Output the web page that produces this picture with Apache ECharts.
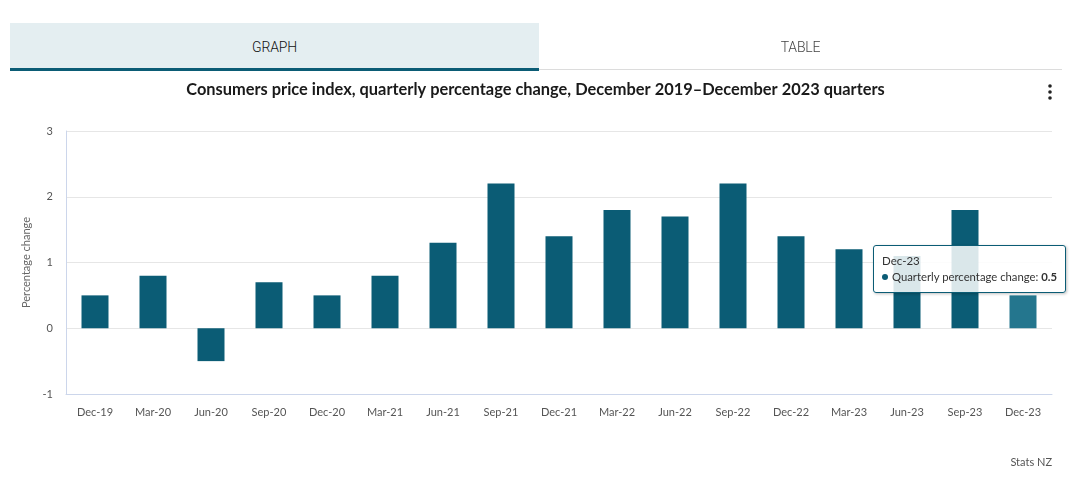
<!DOCTYPE html>
<html>
<head>
<meta charset="utf-8">
<script src="https://cdn.jsdelivr.net/npm/echarts@6/dist/echarts.min.js"></script>
<style>
  html, body { margin: 0; padding: 0; background: #fff; width: 1071px; height: 485px; overflow: hidden; }
  #chart { position: absolute; left: 0; top: 0; width: 1071px; height: 485px; }
  .tab { position: absolute; top: 23px; height: 45px; line-height: 48px; text-align: center;
         font-family: Roboto, "Liberation Sans", sans-serif; font-weight: 300; font-size: 14px; letter-spacing: -0.2px; }
  #tabGraph { left: 10px; width: 529px; background: #e4eef1; color: #111; border-bottom: 3px solid #0b5c75; }
  #tabTable { left: 539px; width: 523px; color: #444; height: 46px; border-bottom: 1px solid #dcdcdc; }
</style>
</head>
<body>
<div id="chart"></div>
<div class="tab" id="tabGraph">GRAPH</div>
<div class="tab" id="tabTable">TABLE</div>
<script>
const categories = ["Dec-19","Mar-20","Jun-20","Sep-20","Dec-20","Mar-21","Jun-21","Sep-21","Dec-21","Mar-22","Jun-22","Sep-22","Dec-22","Mar-23","Jun-23","Sep-23","Dec-23"];
const quarterlyChange = [0.5, 0.8, -0.5, 0.7, 0.5, 0.8, 1.3, 2.2, 1.4, 1.8, 1.7, 2.2, 1.4, 1.2, 1.1, 1.8, 0.5];
const seriesName = "Quarterly percentage change";
const titleText = "Consumers price index, quarterly percentage change, December 2019\u2013December 2023 quarters";
const yAxisName = "Percentage change";
const creditText = "Stats NZ";

const chart = echarts.init(document.getElementById('chart'), null, { renderer: 'canvas' });
const font = 'Lato, "Open Sans", sans-serif';
const barColor = '#0b5c75';

chart.setOption({
  animation: false,
  textStyle: { fontFamily: font },
  title: {
    text: titleText,
    left: 'center', top: 77,
    textStyle: { fontFamily: font, fontSize: 16.4, fontWeight: 'bold', color: '#1a1a1a' }
  },
  grid: { left: 66, right: 19, top: 131, bottom: 91, containLabel: false },
  tooltip: {
    trigger: 'item',
    backgroundColor: 'rgba(255,255,255,0.85)',
    borderColor: barColor,
    borderWidth: 1,
    borderRadius: 3,
    padding: [7, 8],
    extraCssText: 'box-shadow: 1px 1px 3px rgba(0,0,0,0.25);',
    textStyle: { fontFamily: font, fontSize: 11, color: '#333' },
    position: function () { return [873, 245]; },
    formatter: function (p) {
      return '<div style="line-height:16px;font-size:11.5px">' + p.name + '</div>' +
        '<div style="line-height:16px;font-size:11.3px"><span style="display:inline-block;width:6px;height:6px;border-radius:50%;background:' + barColor + ';margin-right:4px;vertical-align:1px"></span>' +
        p.seriesName + ': <b>' + p.value + '</b></div>';
    }
  },
  xAxis: {
    type: 'category',
    data: categories,
    axisLine: { onZero: false, lineStyle: { color: '#ccd6eb', width: 1 } },
    axisTick: { alignWithLabel: true, length: 10, lineStyle: { color: '#ccd6eb' } },
    axisLabel: { color: '#555', fontSize: 11, margin: 13, fontFamily: font }
  },
  yAxis: {
    type: 'value',
    min: -1, max: 3, interval: 1,
    name: yAxisName,
    nameLocation: 'middle',
    nameGap: 27,
    nameTextStyle: { color: '#666', fontSize: 11, fontFamily: font },
    axisLine: { show: true, lineStyle: { color: '#ccd6eb' } },
    axisTick: { show: false },
    axisLabel: { color: '#555', fontSize: 11, margin: 13, fontFamily: font },
    splitLine: { lineStyle: { color: '#e6e6e6' } }
  },
  series: [{
    name: seriesName,
    type: 'bar',
    data: quarterlyChange,
    barWidth: 27,
    itemStyle: { color: barColor },
    emphasis: { itemStyle: { color: '#24768e' } }
  }],
  graphic: [
    { type: 'circle', shape: { cx: 1050, cy: 86, r: 1.8 }, style: { fill: '#222' } },
    { type: 'circle', shape: { cx: 1050, cy: 92, r: 1.8 }, style: { fill: '#222' } },
    { type: 'circle', shape: { cx: 1050, cy: 98, r: 1.8 }, style: { fill: '#222' } },
    { type: 'text', right: 19, top: 457, style: { text: creditText, fill: '#555', fontSize: 11, fontFamily: font } }
  ]
});

const last = quarterlyChange.length - 1;
chart.dispatchAction({ type: 'highlight', seriesIndex: 0, dataIndex: last });
chart.dispatchAction({ type: 'showTip', seriesIndex: 0, dataIndex: last });
</script>
</body>
</html>
